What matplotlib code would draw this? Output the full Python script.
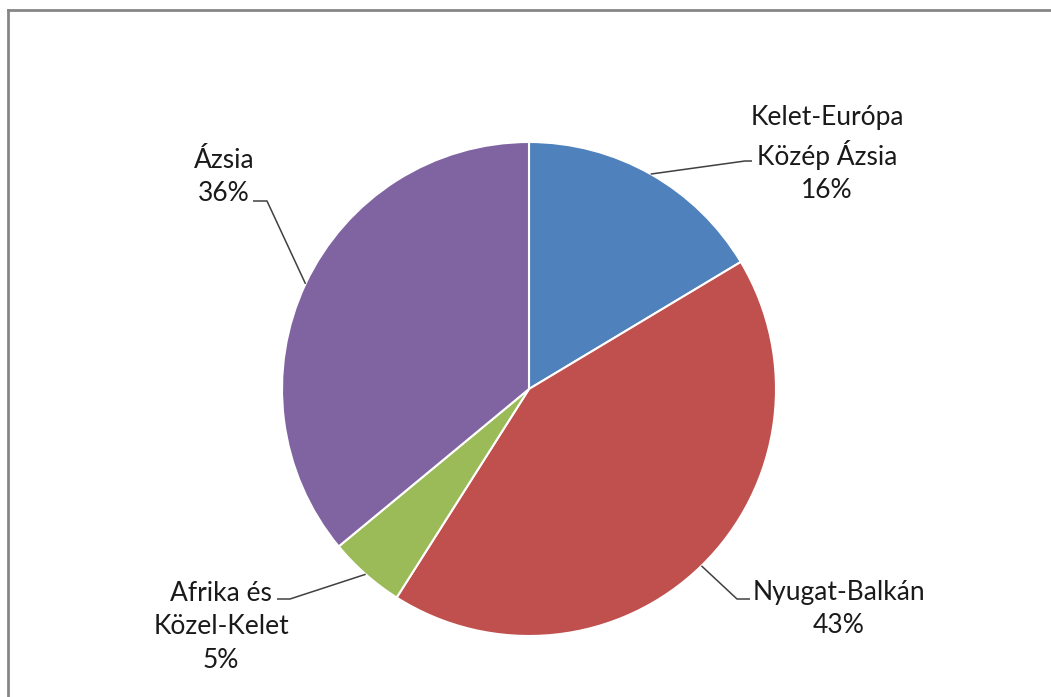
import numpy as np
import matplotlib
matplotlib.use("Agg")
import matplotlib.pyplot as plt
from matplotlib.lines import Line2D

categories = ["Kelet-Európa\nKözép Ázsia", "Nyugat-Balkán", "Afrika és\nKözel-Kelet", "Ázsia"]
values = [16.4, 42.6, 5.0, 36.0]
colors = ["#4F81BD", "#C0504D", "#9BBB59", "#8064A2"]

W, H = 1051, 697
fig = plt.figure(figsize=(W / 100, H / 100), dpi=100)
ax = fig.add_axes([0, 0, 1, 1])
ax.set_xlim(0, W)
ax.set_ylim(0, H)
ax.axis("off")

cx, cy, r = 529, H - 389, 247
wedges, _ = ax.pie(values, center=(cx, cy), radius=r, startangle=90,
                   counterclock=False, colors=colors,
                   wedgeprops=dict(edgecolor="white", linewidth=1.5))
ax.set_xlim(0, W)
ax.set_ylim(0, H)
ax.set_aspect("equal")

# label layout: (text center x, text center y, elbow x, elbow end x)
layout = [
    (827, H - 154, 745, 752),
    (839, H - 609, 737, 750),
    (221, H - 627, 290, 277),
    (224, H - 177, 267, 253),
]
elbow_y = [H - 161, H - 599, H - 599, H - 201]

total = sum(values)
for w, cat, v, (tx, ty, ex, ex2), ey in zip(wedges, categories, values, layout, elbow_y):
    mid = np.deg2rad((w.theta1 + w.theta2) / 2)
    px, py = cx + r * np.cos(mid), cy + r * np.sin(mid)
    ax.plot([px, ex, ex2], [py, ey, ey], color="#404040", lw=1.1, solid_capstyle="butt")
    ax.text(tx, ty, f"{cat}\n{v / total * 100:.0f}%", ha="center", va="center",
            fontsize=19, family=["Lato", "DejaVu Sans"], color="#1a1a1a",
            linespacing=1.42)

# chart frame
fig.add_artist(Line2D([8 / W, 8 / W], [0, 1 - 10 / H], transform=fig.transFigure,
                      color="#868686", lw=2))
fig.add_artist(Line2D([8 / W, 1], [1 - 10 / H, 1 - 10 / H], transform=fig.transFigure,
                      color="#868686", lw=2))

fig.savefig("out.png", dpi=100)
